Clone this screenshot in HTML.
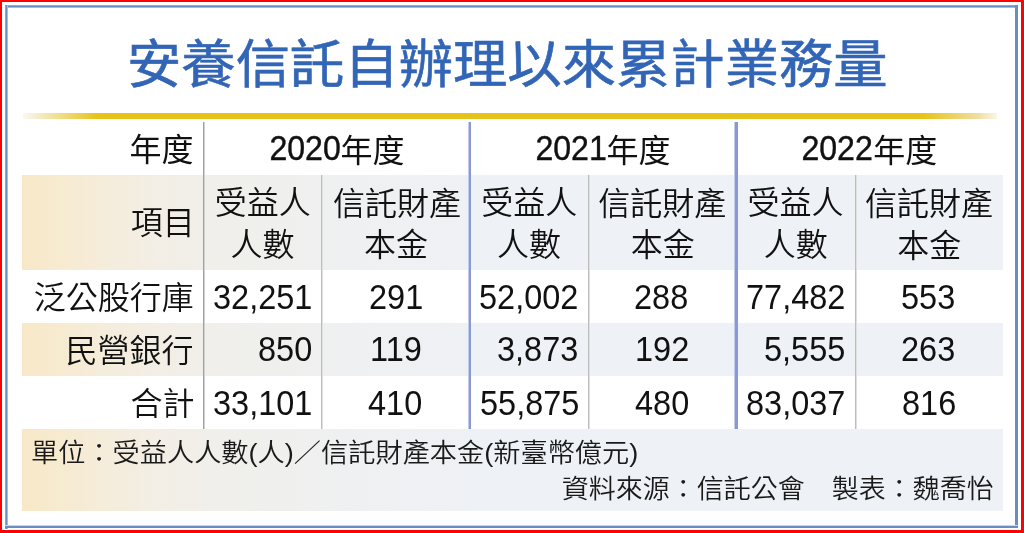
<!DOCTYPE html>
<html lang="zh-Hant">
<head>
<meta charset="utf-8">
<style>
html,body{margin:0;padding:0;}
body{width:1024px;height:533px;position:relative;overflow:hidden;background:#fff;
  font-family:"Liberation Sans","Noto Sans CJK TC",sans-serif;color:#111;}
.abs{position:absolute;}
#red{left:0;top:0;width:1024px;height:533px;box-sizing:border-box;border:2px solid #ff0000;border-bottom-width:3px;border-right-width:3px;}
#gold{left:23px;top:113px;width:974px;height:6px;background:linear-gradient(to right,rgba(246,236,210,0.3) 0px,rgba(244,230,190,0.7) 12px,#e6c31a 75px,#e6c31a 900px,rgba(236,214,135,0.8) 955px,rgba(245,235,205,0.45) 974px);}
.band{left:22px;width:981px;background:linear-gradient(to right,#f8e8c7 0px,#f6ebd3 50px,#f3eee5 130px,#f0efeb 200px,#eff0f1 320px,#eef1f5 450px,#eef1f5 981px);}
.vl{width:2px;background:linear-gradient(to right,#a0a0a0 0,#a0a0a0 1px,#d2d2d2 1px,#d2d2d2 2px);}
.vs{width:2px;background:linear-gradient(to right,#bdbdbd 0,#bdbdbd 1px,#e0e0e0 1px,#e0e0e0 2px);}
.vb{width:3px;background:linear-gradient(to right,#c4cceb 0,#c4cceb 1px,#8a99d3 1px,#8a99d3 3px);}
.t{position:absolute;white-space:nowrap;line-height:1;transform-origin:0 0;font-weight:350;}
.title{color:#3265b6;font-weight:400;-webkit-text-stroke:0.6px #3265b6;}
.hd{font-weight:400;}
.hd .d{-webkit-text-stroke:0.4px #111;}
.d{font-size:35px;display:inline-block;transform:scaleX(.918);transform-origin:100% 100%;position:relative;top:-2px;}
.num{}
.ft{font-weight:350;color:#1a1a1a;}
.k{position:relative;}
</style>
</head>
<body>
<div class="abs" id="red"></div>
<div class="abs" style="left:5px;top:5px;width:1013px;height:3px;background:linear-gradient(#8ea8d3 0,#8ea8d3 1px,#6a8cc2 1px,#6a8cc2 2px,#a9bcdd 2px);"></div>
<div class="abs" style="left:5px;top:5px;width:3px;height:524px;background:linear-gradient(to right,#8ea8d3 0,#8ea8d3 1px,#6a8cc2 1px,#6a8cc2 2px,#a9bcdd 2px);"></div>
<div class="abs" style="left:1015px;top:5px;width:3px;height:523px;background:#6a8cc2;"></div>
<div class="abs" style="left:5px;top:525px;width:1013px;height:3px;background:linear-gradient(#c9d5ea 0,#c9d5ea 1px,#6a8cc2 1px);"></div>
<div class="abs" id="gold"></div>

<div class="abs band" style="top:175px;height:95px;"></div>
<div class="abs band" style="top:323px;height:53px;"></div>
<div class="abs band" style="top:429px;height:82px;"></div>

<div class="abs vl" style="left:203px;top:122px;height:307px;"></div>
<div class="abs vb" style="left:468px;top:122px;height:307px;"></div>
<div class="abs vb" style="left:734px;top:122px;height:307px;width:4px;"></div>
<div class="abs vs" style="left:321px;top:175px;height:254px;"></div>
<div class="abs vs" style="left:588px;top:175px;height:254px;"></div>
<div class="abs vs" style="left:855px;top:175px;height:254px;"></div>

<div class="t title" id="title" style="left:127.00px;top:38.83px;font-size:53px;transform:matrix(1.0252,0,0,0.9843,0,0)">安養信託自辦理以來累計業務量</div>
<div class="t hd" id="h0" style="left:129.45px;top:133.86px;font-size:32px;transform:matrix(1.0000,0,0,1.0000,0,0)">年度</div>
<div class="t hd" id="h2020" style="left:262.70px;top:132.41px;font-size:32px;transform:matrix(1.0000,0,0,1.0000,0,0)"><span class="d">2020</span><span class="k">年度</span></div>
<div class="t hd" id="h2021" style="left:528.70px;top:132.41px;font-size:32px;transform:matrix(1.0000,0,0,1.0000,0,0)"><span class="d">2021</span><span class="k">年度</span></div>
<div class="t hd" id="h2022" style="left:795.35px;top:132.41px;font-size:32px;transform:matrix(1.0000,0,0,1.0000,0,0)"><span class="d">2022</span><span class="k">年度</span></div>
<div class="t" id="s0" style="left:130.70px;top:207.11px;font-size:32px;transform:matrix(1.0000,0,0,1.0000,0,0)">項目</div>
<div class="t" id="a2020" style="left:214.65px;top:186.81px;font-size:32px;transform:matrix(1.0000,0,0,1.0000,0,0)">受益人</div>
<div class="t" id="b2020" style="left:230.50px;top:229.11px;font-size:32px;transform:matrix(1.0000,0,0,1.0000,0,0)">人數</div>
<div class="t" id="c2020" style="left:332.95px;top:187.51px;font-size:32px;transform:matrix(1.0000,0,0,1.0000,0,0)">信託財產</div>
<div class="t" id="d2020" style="left:364.10px;top:229.06px;font-size:32px;transform:matrix(1.0000,0,0,1.0000,0,0)">本金</div>
<div class="t" id="a2021" style="left:481.15px;top:186.81px;font-size:32px;transform:matrix(1.0000,0,0,1.0000,0,0)">受益人</div>
<div class="t" id="b2021" style="left:496.95px;top:229.11px;font-size:32px;transform:matrix(1.0000,0,0,1.0000,0,0)">人數</div>
<div class="t" id="c2021" style="left:598.20px;top:187.51px;font-size:32px;transform:matrix(1.0000,0,0,1.0000,0,0)">信託財產</div>
<div class="t" id="d2021" style="left:630.85px;top:229.06px;font-size:32px;transform:matrix(1.0000,0,0,1.0000,0,0)">本金</div>
<div class="t" id="a2022" style="left:747.40px;top:186.81px;font-size:32px;transform:matrix(1.0000,0,0,1.0000,0,0)">受益人</div>
<div class="t" id="b2022" style="left:763.70px;top:229.11px;font-size:32px;transform:matrix(1.0000,0,0,1.0000,0,0)">人數</div>
<div class="t" id="c2022" style="left:865.10px;top:187.51px;font-size:32px;transform:matrix(1.0000,0,0,1.0000,0,0)">信託財產</div>
<div class="t" id="d2022" style="left:897.30px;top:229.56px;font-size:32px;transform:matrix(1.0000,0,0,1.0000,0,0)">本金</div>
<div class="t" id="r1" style="left:33.75px;top:282.11px;font-size:32px;transform:matrix(1.0000,0,0,1.0000,0,0)">泛公股行庫</div>
<div class="t" id="r2" style="left:65.40px;top:334.66px;font-size:32px;transform:matrix(1.0000,0,0,1.0000,0,0)">民營銀行</div>
<div class="t" id="r3" style="left:130.40px;top:387.91px;font-size:32px;transform:matrix(1.0000,0,0,1.0000,0,0)">合計</div>
<div class="t num" id="n0" style="left:213.35px;top:278.65px;font-size:35px;transform:matrix(0.9280,0,0,1.0000,0,0)">32,251</div>
<div class="t num" id="n1" style="left:368.55px;top:278.65px;font-size:35px;transform:matrix(0.9280,0,0,1.0000,0,0)">291</div>
<div class="t num" id="n2" style="left:479.05px;top:278.65px;font-size:35px;transform:matrix(0.9280,0,0,1.0000,0,0)">52,002</div>
<div class="t num" id="n3" style="left:634.15px;top:278.65px;font-size:35px;transform:matrix(0.9280,0,0,1.0000,0,0)">288</div>
<div class="t num" id="n4" style="left:745.65px;top:278.65px;font-size:35px;transform:matrix(0.9280,0,0,1.0000,0,0)">77,482</div>
<div class="t num" id="n5" style="left:901.20px;top:278.65px;font-size:35px;transform:matrix(0.9280,0,0,1.0000,0,0)">553</div>
<div class="t num" id="n6" style="left:257.60px;top:330.90px;font-size:35px;transform:matrix(0.9280,0,0,1.0000,0,0)">850</div>
<div class="t num" id="n7" style="left:369.95px;top:330.90px;font-size:35px;transform:matrix(0.9280,0,0,1.0000,0,0)">119</div>
<div class="t num" id="n8" style="left:497.05px;top:330.90px;font-size:35px;transform:matrix(0.9280,0,0,1.0000,0,0)">3,873</div>
<div class="t num" id="n9" style="left:635.20px;top:330.90px;font-size:35px;transform:matrix(0.9280,0,0,1.0000,0,0)">192</div>
<div class="t num" id="n10" style="left:763.70px;top:330.90px;font-size:35px;transform:matrix(0.9280,0,0,1.0000,0,0)">5,555</div>
<div class="t num" id="n11" style="left:901.45px;top:330.90px;font-size:35px;transform:matrix(0.9280,0,0,1.0000,0,0)">263</div>
<div class="t num" id="n12" style="left:213.35px;top:384.80px;font-size:35px;transform:matrix(0.9280,0,0,1.0000,0,0)">33,101</div>
<div class="t num" id="n13" style="left:368.45px;top:384.80px;font-size:35px;transform:matrix(0.9280,0,0,1.0000,0,0)">410</div>
<div class="t num" id="n14" style="left:480.15px;top:384.80px;font-size:35px;transform:matrix(0.9280,0,0,1.0000,0,0)">55,875</div>
<div class="t num" id="n15" style="left:634.65px;top:384.80px;font-size:35px;transform:matrix(0.9280,0,0,1.0000,0,0)">480</div>
<div class="t num" id="n16" style="left:745.80px;top:384.80px;font-size:35px;transform:matrix(0.9280,0,0,1.0000,0,0)">83,037</div>
<div class="t num" id="n17" style="left:901.50px;top:384.80px;font-size:35px;transform:matrix(0.9280,0,0,1.0000,0,0)">816</div>
<div class="t ft" id="f1" style="left:31.39px;top:441.36px;font-size:27px;transform:matrix(1.0072,0,0,0.9480,0,0)">單位：受益人人數(人)／信託財產本金(新臺幣億元)</div>
<div class="t ft" id="f2" style="left:561.85px;top:476.61px;font-size:27px;transform:matrix(1.0000,0,0,0.9480,0,0)">資料來源：信託公會　製表：魏喬怡</div>
</body>
</html>
